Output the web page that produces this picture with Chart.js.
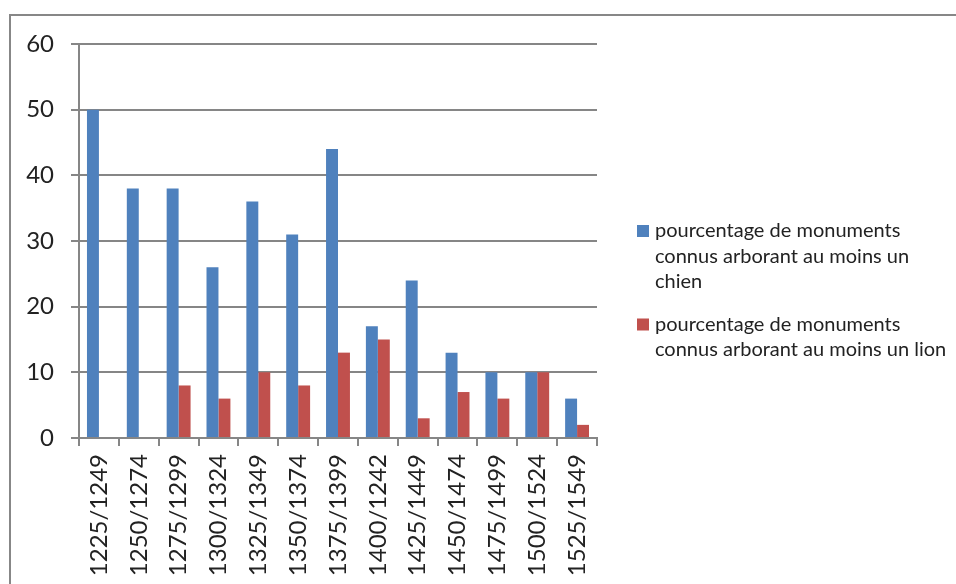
<!DOCTYPE html>
<html>
<head>
<meta charset="utf-8">
<script src="https://cdn.jsdelivr.net/npm/chart.js@4"></script>
<style>
  html, body { margin: 0; padding: 0; background: #fff; overflow: hidden; }
  #frame { position: absolute; left: 9px; top: 14px; width: 2000px; height: 2000px; border: 2px solid #878787; }
  #wrap { position: absolute; left: 0; top: 0; width: 956px; height: 584px; }
</style>
</head>
<body>
<div id="frame"></div>
<div id="wrap"><canvas id="chart"></canvas></div>
<script>
const periods = ['1225/1249', '1250/1274', '1275/1299', '1300/1324', '1325/1349', '1350/1374',
  '1375/1399', '1400/1242', '1425/1449', '1450/1474', '1475/1499', '1500/1524', '1525/1549'];
const chienValues = [50, 38, 38, 26, 36, 31, 44, 17, 24, 13, 10, 10, 6];
const lionValues = [null, null, 8, 6, 10, 8, 13, 15, 3, 7, 6, 10, 2];
const chienLabel = ['pourcentage de monuments', 'connus arborant au moins un', 'chien'];
const lionLabel = ['pourcentage de monuments', 'connus arborant au moins un lion'];
const yTicks = [0, 10, 20, 30, 40, 50, 60];

const grey = '#868686';
const textColor = '#222';

// legend drawn by hand so the long labels can wrap like the original
const sideLegend = {
  id: 'sideLegend',
  afterDraw(chart) {
    const ctx = chart.ctx;
    ctx.save();
    ctx.font = '20px Lato';
    ctx.textBaseline = 'middle';
    ctx.fillStyle = textColor;
    let y = 231;
    chart.data.datasets.forEach(ds => {
      ctx.fillStyle = ds.backgroundColor;
      ctx.fillRect(637, y - 6, 12, 12);
      ctx.fillStyle = textColor;
      ds.legendLines.forEach((line, i) => {
        ctx.fillText(line, 655, y + i * 25.5);
      });
      y += ds.legendLines.length * 25.5 + 17;
    });
    ctx.restore();
  }
};

new Chart(document.getElementById('chart'), {
  type: 'bar',
  data: {
    labels: periods,
    datasets: [
      { label: chienLabel.join(' '), legendLines: chienLabel, data: chienValues, backgroundColor: '#4F81BD' },
      { label: lionLabel.join(' '), legendLines: lionLabel, data: lionValues, backgroundColor: '#C0504D' }
    ]
  },
  options: {
    responsive: true,
    maintainAspectRatio: false,
    animation: false,
    layout: { padding: { left: 0, top: 44, right: 956 - 597, bottom: 0 } },
    datasets: { bar: { categoryPercentage: 0.6, barPercentage: 1 } },
    plugins: { legend: { display: false }, tooltip: { enabled: false } },
    scales: {
      x: {
        afterFit: s => { s.height = 584 - 438 - 44 + 44; },
        grid: { drawOnChartArea: false, offset: true, color: grey, lineWidth: 2, tickLength: 8 },
        border: { color: grey, width: 2 },
        ticks: { color: textColor, font: { family: 'Lato', size: 24 }, minRotation: 90, maxRotation: 90, padding: 8, autoSkip: false }
      },
      y: {
        min: 0,
        max: 60,
        afterFit: s => { s.width = 79; },
        afterBuildTicks: s => { s.ticks = yTicks.map(v => ({ value: v })); },
        grid: { color: grey, lineWidth: 2, tickLength: 8 },
        border: { color: grey, width: 2 },
        ticks: { color: textColor, font: { family: 'Lato', size: 24 }, padding: 17 }
      }
    }
  },
  plugins: [sideLegend]
});
</script>
</body>
</html>
